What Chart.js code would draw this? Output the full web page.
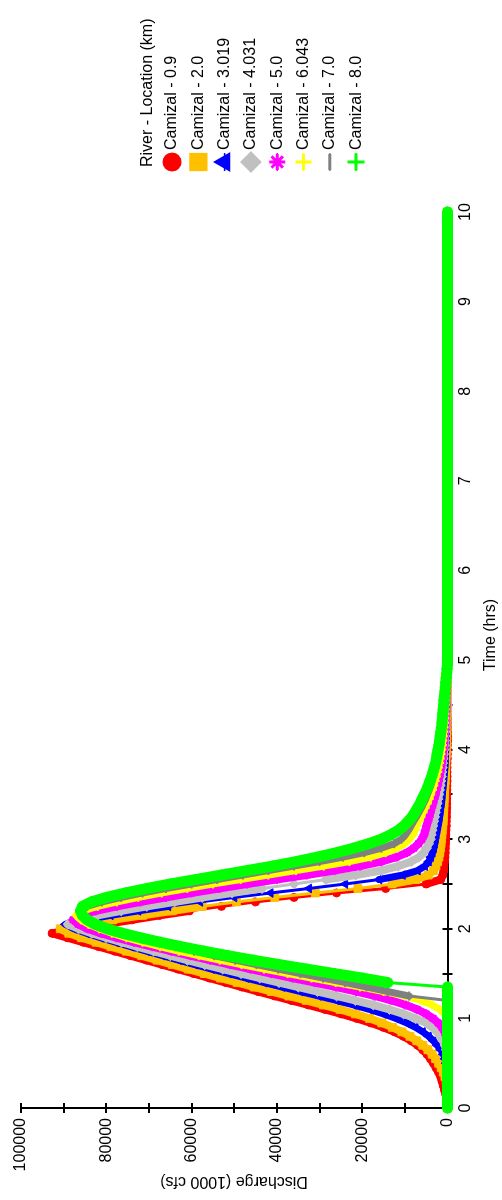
<!DOCTYPE html>
<html>
<head>
<meta charset="utf-8">
<script src="https://cdn.jsdelivr.net/npm/chart.js@4.4.1/dist/chart.umd.min.js"></script>
<style>
  html, body { margin: 0; padding: 0; background: #fff; overflow: hidden; }
  /* the chart is laid out landscape and turned a quarter turn to stand upright */
  #wrap { position: absolute; left: 0; top: 1200px; width: 1200px; height: 502px;
          transform-origin: 0 0; transform: rotate(-90deg); }
</style>
</head>
<body>
<div id="wrap"><canvas id="c" width="1200" height="502"></canvas></div>
<script>
// Time of each sample (hrs)
const TIME_HRS = [
  0,0.05,0.1,0.15,0.2,0.25,0.3,0.35,0.4,0.45,
  0.5,0.55,0.6,0.65,0.7,0.75,0.8,0.85,0.9,0.95,
  1,1.05,1.1,1.15,1.2,1.25,1.3,1.35,1.4,1.45,
  1.5,1.55,1.6,1.65,1.7,1.75,1.8,1.85,1.9,1.95,
  2,2.05,2.1,2.15,2.2,2.25,2.3,2.35,2.4,2.45,
  2.5,2.55,2.6,2.65,2.7,2.75,2.8,2.85,2.9,2.95,
  3,3.05,3.1,3.15,3.2,3.25,3.3,3.35,3.4,3.45,
  3.5,3.55,3.6,3.65,3.7,3.75,3.8,3.85,3.9,3.95,
  4,4.05,4.1,4.15,4.2,4.25,4.3,4.35,4.4,4.45,
  4.5,4.55,4.6,4.65,4.7,4.75,4.8,4.85,4.9,4.95,
  5,
  5.5,6,6.5,7,7.5,8,8.5,9,9.5,10
];

// Discharge at each river station, thousands of cfs
const Q_CAMIZAL_0_9 = [
  0,0,0.2,0.4,0.7,1.0,1.3,1.6,2.1,2.7,
  3.3,4.0,4.8,5.8,7.0,8.5,10.3,12.4,15.0,18.0,
  21.3,24.9,28.7,32.6,36.6,40.5,44.4,48.2,52.0,55.8,
  59.5,63.2,66.9,70.6,74.3,78.0,81.7,85.4,89.1,92.7,
  87.0,80.5,74.0,67.5,60.5,53.0,45.0,36.0,26.0,14.5,
  5.0,1.6,1.1,0.9,0.8,0.7,0.6,0.55,0.5,0.45,
  0.4,0.4,0.35,0.3,0.3,0.25,0.25,0.2,0.2,0.2,
  0.15,0.15,0.15,0.1,0.1,0.1,0.1,0.1,0.05,0.05,
  0.05,0.05,0,0,0,0,0,0,0,0,
  0,0,0,0,0,0,0,0,0,0,
  0,
  0,0,0,0,0,0,0,0,0,0
];
const Q_CAMIZAL_2_0 = [
  0,0,0,0,0,0.1,0.3,0.6,1.0,1.5,
  2.1,2.8,3.6,4.6,5.8,7.2,8.8,10.7,12.9,15.4,
  18.3,21.6,25.2,29.1,33.1,37.2,41.3,45.3,49.3,53.2,
  57.0,60.8,64.5,68.1,71.7,75.3,78.9,82.4,85.8,88.8,
  90.8,85.0,78.5,71.5,64.5,57.5,49.5,40.5,31.0,21.0,
  13.0,7.5,4.5,3.3,2.7,2.3,2.0,1.8,1.65,1.5,
  1.4,1.3,1.2,1.1,1.0,0.95,0.9,0.85,0.8,0.75,
  0.7,0.65,0.6,0.55,0.5,0.45,0.4,0.4,0.35,0.3,
  0.3,0.25,0.2,0.2,0.15,0.1,0.1,0.1,0.05,0.05,
  0.05,0,0,0,0,0,0,0,0,0,
  0,
  0,0,0,0,0,0,0,0,0,0
];
const Q_CAMIZAL_3_019 = [
  0,0,0,0,0,0,0,0,0,0.1,
  0.3,0.6,1.0,1.6,2.4,3.3,4.4,5.8,7.5,9.6,
  12.1,15.0,18.3,22.0,26.0,30.2,34.5,38.8,43.0,47.2,
  51.3,55.3,59.2,63.0,66.8,70.5,74.2,77.8,81.3,84.6,
  87.6,89.6,85.0,79.0,72.5,65.5,58.0,50.0,41.5,32.5,
  24.0,16.0,10.5,7.0,5.3,4.4,3.9,3.5,3.2,3.0,
  2.8,2.6,2.4,2.2,2.0,1.85,1.7,1.55,1.4,1.3,
  1.2,1.1,1.0,0.9,0.8,0.7,0.6,0.55,0.5,0.45,
  0.4,0.35,0.3,0.3,0.25,0.2,0.2,0.15,0.15,0.1,
  0.1,0.1,0.05,0.05,0.05,0.05,0.05,0.05,0.05,0.05,
  0.05,
  0,0,0,0,0,0,0,0,0,0
];
const Q_CAMIZAL_4_031 = [
  0,0,0,0,0,0,0,0,0,0,
  0,0,0.1,0.3,0.6,1.1,1.7,2.5,3.6,5.0,
  7.5,10.3,13.6,17.4,21.6,26.0,30.5,35.0,39.5,44.0,
  48.4,52.7,56.9,61.0,65.0,68.9,72.7,76.4,80.0,83.4,
  86.5,89.0,86.5,82.0,76.5,70.5,64.0,57.5,50.5,43.5,
  36.0,28.5,21.5,15.5,11.5,8.5,6.7,5.6,4.9,4.4,
  4.0,3.8,3.6,3.4,3.2,3.0,2.8,2.6,2.4,2.2,
  2.0,1.85,1.7,1.55,1.4,1.3,1.2,1.1,1.0,0.9,
  0.8,0.7,0.65,0.6,0.5,0.45,0.4,0.35,0.3,0.3,
  0.25,0.2,0.2,0.15,0.15,0.1,0.1,0.1,0.05,0.05,
  0.05,
  0,0,0,0,0,0,0,0,0,0
];
const Q_CAMIZAL_5_0 = [
  0,0,0,0,0,0,0,0,0,0,
  0,0,0,0,0,0.1,0.3,0.7,1.3,2.2,
  3.4,5.0,7.1,9.8,13.1,17.0,21.4,26.2,31.2,36.3,
  41.3,46.2,51.0,55.7,60.3,64.8,69.2,73.5,77.6,81.3,
  84.4,86.6,87.8,86.3,82.5,77.5,72.0,66.0,60.0,53.5,
  47.0,40.0,33.0,26.5,20.5,15.5,12.0,9.5,7.9,6.8,
  6.0,5.5,5.2,4.9,4.6,4.3,4.0,3.7,3.4,3.1,
  2.8,2.6,2.3,2.1,1.9,1.7,1.5,1.35,1.2,1.1,
  1.0,0.9,0.8,0.7,0.65,0.6,0.5,0.45,0.4,0.35,
  0.3,0.3,0.25,0.2,0.2,0.15,0.15,0.1,0.1,0.1,
  0.1,
  0,0,0,0,0,0,0,0,0,0
];
const Q_CAMIZAL_6_043 = [
  0,0,0,0,0,0,0,0,0,0,
  0,0,0,0,0,0,0,0,0,0,
  0.2,0.7,1.8,3.6,6.3,9.9,15.0,20.5,26.2,31.9,
  37.5,43.0,48.3,53.4,58.3,63.0,67.4,71.5,75.3,78.7,
  81.7,84.2,86.0,87.1,85.5,82.0,77.5,72.5,67.0,61.0,
  55.0,48.5,42.0,35.5,29.0,23.0,18.0,14.5,11.8,10.0,
  8.9,8.1,7.6,7.2,6.7,6.2,5.7,5.2,4.7,4.3,
  3.9,3.5,3.2,2.9,2.6,2.3,2.1,1.9,1.7,1.5,
  1.35,1.2,1.1,1.0,0.9,0.8,0.7,0.65,0.6,0.5,
  0.45,0.4,0.35,0.3,0.3,0.25,0.2,0.2,0.15,0.15,
  0.1,
  0,0,0,0,0,0,0,0,0,0
];
const Q_CAMIZAL_7_0 = [
  0,0,0,0,0,0,0,0,0,0,
  0,0,0,0,0,0,0,0,0,0,
  0,0,0,0,0,9.0,14.0,19.0,24.0,29.2,
  34.5,39.7,44.8,49.8,54.7,59.4,63.9,68.2,72.3,76.1,
  79.5,82.4,84.6,86.0,86.5,84.5,81.0,76.5,71.5,66.0,
  60.0,54.0,48.0,42.0,36.0,30.0,24.5,19.5,15.5,12.5,
  10.8,9.8,9.1,8.5,7.9,7.3,6.7,6.1,5.6,5.1,
  4.7,4.3,3.9,3.6,3.3,3.0,2.7,2.5,2.3,2.1,
  1.9,1.7,1.55,1.4,1.3,1.2,1.1,1.0,0.9,0.8,
  0.75,0.7,0.6,0.55,0.5,0.45,0.4,0.35,0.3,0.3,
  0.25,
  0,0,0,0,0,0,0,0,0,0
];
const Q_CAMIZAL_8_0 = [
  0,0,0,0,0,0,0,0,0,0,
  0,0,0,0,0,0,0,0,0,0,
  0,0,0,0,0,0,0,0,14.0,20.0,
  26.5,33.0,39.4,45.6,51.5,57.1,62.4,67.4,72.0,76.2,
  79.8,82.6,84.5,85.6,86.0,85.6,83.5,80.0,75.5,70.5,
  65.0,59.0,53.0,47.0,41.0,35.5,30.5,26.0,22.0,18.5,
  15.5,13.3,11.5,10.2,9.2,8.3,7.6,7.0,6.4,5.9,
  5.4,4.9,4.5,4.1,3.7,3.4,3.1,2.8,2.6,2.4,
  2.2,2.0,1.85,1.7,1.55,1.4,1.3,1.2,1.1,1.0,
  0.9,0.8,0.7,0.6,0.5,0.4,0.3,0.2,0.1,0,
  0,
  0,0,0,0,0,0,0,0,0,0
];

const STATIONS = ['Camizal - 0.9','Camizal - 2.0','Camizal - 3.019','Camizal - 4.031',
                  'Camizal - 5.0','Camizal - 6.043','Camizal - 7.0','Camizal - 8.0'];
const SERIES = [Q_CAMIZAL_0_9, Q_CAMIZAL_2_0, Q_CAMIZAL_3_019, Q_CAMIZAL_4_031,
                Q_CAMIZAL_5_0, Q_CAMIZAL_6_043, Q_CAMIZAL_7_0, Q_CAMIZAL_8_0];
const TIME_TICKS = [0,0.5,1,1.5,2,2.5,3,3.5,4,4.5,5,5.5,6,6.5,7,7.5,8,8.5,9,9.5,10];
const Q_TICKS = [0,10000,20000,30000,40000,50000,60000,70000,80000,90000,100000];

// Drawing styles for each station
const COLORS  = ['#ff0000','#ffc000','#0000ff','#c0c0c0','#ff00ff','#ffff00','#808080','#00ff00'];
const MARKERS = ['circle','rect','triangle','rectRot','star','cross','line','cross'];
const RADIUS  = [4, 5.5, 5, 5, 4.5, 4.5, 4.5, 5.5];
const PT_LINE = [1, 1, 1, 1, 2, 2, 2, 2];
const BAND    = [8, 8, 7, 8, 8, 7, 7, 11];
const LEG_RADIUS = [8.5, 11.5, 9.5, 9.5, 8, 8, 8, 8.5];

const FONT = '"Liberation Sans", Arial, sans-serif';

const datasets = SERIES.map((vals, i) => ({
  label: STATIONS[i],
  data: vals.map(v => v * 1000),
  borderColor: COLORS[i],
  backgroundColor: COLORS[i],
  pointBackgroundColor: COLORS[i],
  pointBorderColor: COLORS[i],
  pointStyle: MARKERS[i],
  pointRadius: RADIUS[i],
  pointBorderWidth: PT_LINE[i],
  borderWidth: BAND[i],
  borderJoinStyle: 'round',
  borderCapStyle: 'round',
  segment: {
    borderWidth: ctx => Math.abs(ctx.p1.parsed.y - ctx.p0.parsed.y) > 7000 ? 3 : BAND[i]
  },
  order: SERIES.length - i,
  clip: false,
  fill: false,
  tension: 0
}));

// crossing tick marks on both axes, drawn beneath the data
const axisTicks = {
  id: 'axisTicks',
  beforeDatasetsDraw(chart) {
    const { ctx, scales: { x, y } } = chart;
    ctx.save();
    ctx.strokeStyle = '#000';
    ctx.lineWidth = 2;
    ctx.beginPath();
    TIME_TICKS.forEach(t => {
      const px = Math.round(x.getPixelForValue(t));
      ctx.moveTo(px, y.bottom - 5); ctx.lineTo(px, y.bottom + 5);
    });
    Q_TICKS.forEach(q => {
      const py = Math.round(y.getPixelForValue(q));
      ctx.moveTo(x.left - 5, py); ctx.lineTo(x.left + 5, py);
    });
    ctx.stroke();
    ctx.restore();
  }
};

// axis titles and the station key
const annotations = {
  id: 'annotations',
  afterDraw(chart) {
    const { ctx } = chart;
    ctx.save();
    ctx.fillStyle = '#000';
    ctx.font = '16px ' + FONT;
    ctx.textBaseline = 'middle';

    ctx.textAlign = 'center';
    ctx.fillText('Time (hrs)', 565, 491);

    ctx.save();
    ctx.translate(19, 234);
    ctx.rotate(-Math.PI / 2);
    ctx.fillText('Discharge (1000 cfs)', 0, 0);
    ctx.restore();

    ctx.textAlign = 'left';
    ctx.fillText('River - Location (km)', 1033, 148);
    STATIONS.forEach((name, i) => {
      const cy = 172 + i * 26.3;
      const cx = 1038;
      ctx.strokeStyle = COLORS[i];
      ctx.fillStyle = COLORS[i];
      ctx.lineWidth = 1.5;
      ctx.beginPath();
      ctx.moveTo(cx - 9, cy); ctx.lineTo(cx + 9, cy);
      ctx.stroke();
      ctx.lineWidth = PT_LINE[i] + 1;
      Chart.helpers.drawPoint(ctx, {
        pointStyle: MARKERS[i], radius: LEG_RADIUS[i], rotation: 0, borderWidth: PT_LINE[i] + 1
      }, cx, cy);
      ctx.fillStyle = '#000';
      ctx.fillText(name, 1050, cy);
    });
    ctx.restore();
  }
};

new Chart(document.getElementById('c'), {
  type: 'line',
  data: { labels: TIME_HRS, datasets },
  options: {
    responsive: false,
    animation: false,
    events: [],
    layout: { padding: { left: 0, right: 212, top: 21, bottom: 0 } },
    plugins: { legend: { display: false }, tooltip: { enabled: false } },
    scales: {
      x: {
        type: 'linear', min: 0, max: 10,
        ticks: {
          stepSize: 0.5, autoSkip: false, maxRotation: 0, color: '#000', padding: 8,
          font: { family: FONT, size: 16 },
          callback: v => Number.isInteger(v) ? String(v) : ''
        },
        grid: { display: true, drawOnChartArea: false, drawTicks: false },
        border: { display: true, color: '#000', width: 2 },
        afterFit: s => { s.height = 54.5; }
      },
      y: {
        type: 'linear', min: 0, max: 100000,
        ticks: {
          stepSize: 10000, autoSkip: false, color: '#000', padding: 10,
          font: { family: FONT, size: 16 },
          callback: v => (v % 20000 === 0) ? String(v) : ''
        },
        grid: { display: true, drawOnChartArea: false, drawTicks: false },
        border: { display: true, color: '#000', width: 2 },
        afterFit: s => { s.width = 92; }
      }
    }
  },
  plugins: [axisTicks, annotations]
});
</script>
</body>
</html>
